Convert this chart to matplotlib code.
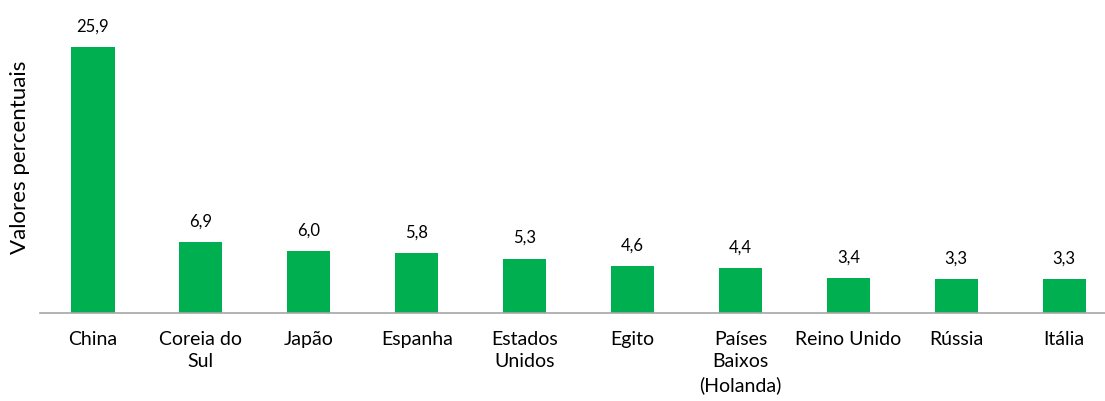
import matplotlib
matplotlib.use("Agg")
import matplotlib.pyplot as plt

categories = ["China", "Coreia do\nSul", "Japão", "Espanha", "Estados\nUnidos", "Egito",
              "Países\nBaixos\n(Holanda)", "Reino Unido", "Rússia", "Itália"]
values = [25.9, 6.9, 6.0, 5.8, 5.3, 4.6, 4.4, 3.4, 3.3, 3.3]
value_labels = ["25,9", "6,9", "6,0", "5,8", "5,3", "4,6", "4,4", "3,4", "3,3", "3,3"]
ylabel = "Valores percentuais"

plt.rcParams['font.family'] = ['Lato', 'DejaVu Sans']

W, H = 1105, 401
fig = plt.figure(figsize=(W / 100, H / 100), dpi=100)
ax = fig.add_axes([40 / W, (H - 313) / H, 1065 / W, 313 / H])

x = list(range(len(values)))
ax.bar(x, values, width=0.4, color="#00B050", zorder=2)
for xi, v, lab in zip(x, values, value_labels):
    ax.annotate(lab, (xi, v), xytext=(0, 9), textcoords="offset points",
                ha="center", va="bottom", fontsize=12, color="#000000")

ax.set_xlim(-0.491, 9.379)
ax.set_ylim(0, 30.48)
ax.set_xticks(x)
ax.set_xticklabels(categories, fontsize=14, linespacing=1.38, va="top")
ax.tick_params(axis="x", length=0, pad=13)
ax.set_yticks([])
for s in ["top", "right", "left"]:
    ax.spines[s].set_visible(False)
ax.spines["bottom"].set_color("#A6A6A6")
ax.spines["bottom"].set_linewidth(1.2)

fig.text(20 / W, 1 - 157 / H, ylabel, rotation=90, ha="center", va="center", fontsize=16)

fig.savefig("out.png", dpi=100)
